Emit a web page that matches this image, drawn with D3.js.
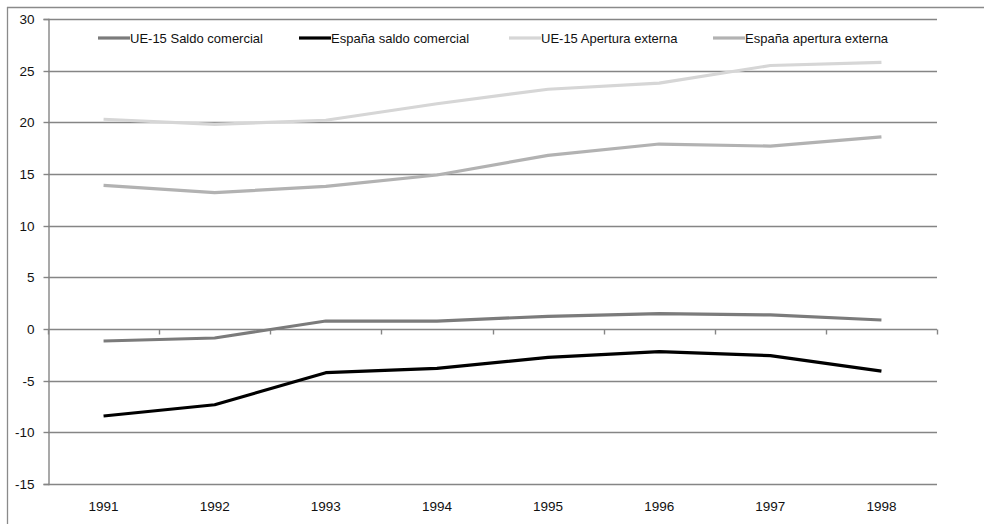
<!DOCTYPE html>
<html><head><meta charset="utf-8">
<script src="https://cdn.jsdelivr.net/npm/d3@7"></script>
<style>
html,body{margin:0;padding:0;background:#fff;}
svg{display:block;font-family:"Liberation Sans",Arial,sans-serif;}
</style></head>
<body><svg id="c" width="984" height="524"></svg>
<script>
const years = ["1991","1992","1993","1994","1995","1996","1997","1998"];
const ue15Saldo = [-1.16,-0.87,0.77,0.77,1.23,1.48,1.36,0.87];
const espanaSaldo = [-8.42,-7.33,-4.23,-3.81,-2.74,-2.19,-2.58,-4.07];
const ue15Apertura = [20.3,19.8,20.2,21.8,23.2,23.8,25.5,25.8];
const espanaApertura = [13.9,13.2,13.8,14.9,16.8,17.9,17.7,18.6];
const seriesNames = ["UE-15 Saldo comercial","España saldo comercial","UE-15 Apertura externa","España apertura externa"];
const yTicks = [-15,-10,-5,0,5,10,15,20,25,30];

const colors = ["#7b7b7b","#000000","#d6d6d6","#b2b2b2"];
const seriesVals = [ue15Saldo, espanaSaldo, ue15Apertura, espanaApertura];

const svg = d3.select("#c");
const L = 48, R = 937, T = 19, B = 484;
const x = d3.scaleBand().domain(years).range([L, R]);
const y = d3.scaleLinear().domain([-15, 30]).range([B, T]);
const gridCol = "#858585";

// outer frame (top and left)
svg.append("line").attr("x1",7).attr("x2",984).attr("y1",7.5).attr("y2",7.5).attr("stroke","#8a8a8a").attr("stroke-width",1.3);
svg.append("line").attr("x1",7.5).attr("x2",7.5).attr("y1",7).attr("y2",524).attr("stroke","#8a8a8a").attr("stroke-width",1.3);

// gridlines
svg.append("g").selectAll("line").data(yTicks).join("line")
  .attr("x1", L).attr("x2", R)
  .attr("y1", d => Math.round(y(d))+0.5).attr("y2", d => Math.round(y(d))+0.5)
  .attr("stroke", gridCol).attr("stroke-width", 1.4);

// y axis
const yAxis = d3.axisLeft(y).tickValues(yTicks).tickSize(5).tickPadding(9).tickFormat(d => String(d));
const gy = svg.append("g").attr("transform", `translate(${L+0.5},0)`).call(yAxis);
gy.select(".domain").attr("stroke", gridCol).attr("stroke-width",1.4);
gy.selectAll(".tick line").attr("stroke", gridCol).attr("stroke-width",1.4);
gy.selectAll(".tick text").attr("font-size", 13.5).attr("fill","#111").attr("font-family","Liberation Sans, Arial, sans-serif");
gy.selectAll(".tick").attr("transform", d => `translate(0,${Math.round(y(d))+0.5})`);

// x axis line at y=0 with boundary ticks
const y0 = Math.round(y(0))+0.5;
const bounds = years.map(d => x(d)).concat([R]);
svg.append("g").selectAll("line").data(bounds).join("line")
  .attr("x1", d => Math.round(d)+0.5).attr("x2", d => Math.round(d)+0.5)
  .attr("y1", y0).attr("y2", y0+5)
  .attr("stroke", gridCol).attr("stroke-width", 1.4);

// x category labels at bottom
svg.append("g").selectAll("text").data(years).join("text")
  .attr("x", d => x(d) + x.bandwidth()/2)
  .attr("y", 511)
  .attr("text-anchor","middle")
  .attr("font-size", 13.5).attr("fill","#111")
  .text(d => d);

// series lines
const line = d3.line().x((d,i) => x(years[i]) + x.bandwidth()/2).y(d => y(d));
svg.append("g").selectAll("path").data(seriesVals).join("path")
  .attr("d", d => line(d))
  .attr("fill","none")
  .attr("stroke", (d,i) => colors[i])
  .attr("stroke-width", 3.2)
  .attr("stroke-linejoin","round");

// legend
const legX = [98, 299, 509, 713];
const lg = svg.append("g").selectAll("g").data(seriesNames).join("g")
  .attr("transform", (d,i) => `translate(${legX[i]},38)`);
lg.append("line").attr("x1",0).attr("x2",32).attr("y1",0).attr("y2",0)
  .attr("stroke",(d,i)=>colors[i]).attr("stroke-width",3.2);
lg.append("text").attr("x",32).attr("y",4.5).attr("font-size",13).attr("fill","#111").text(d=>d);
</script></body></html>
